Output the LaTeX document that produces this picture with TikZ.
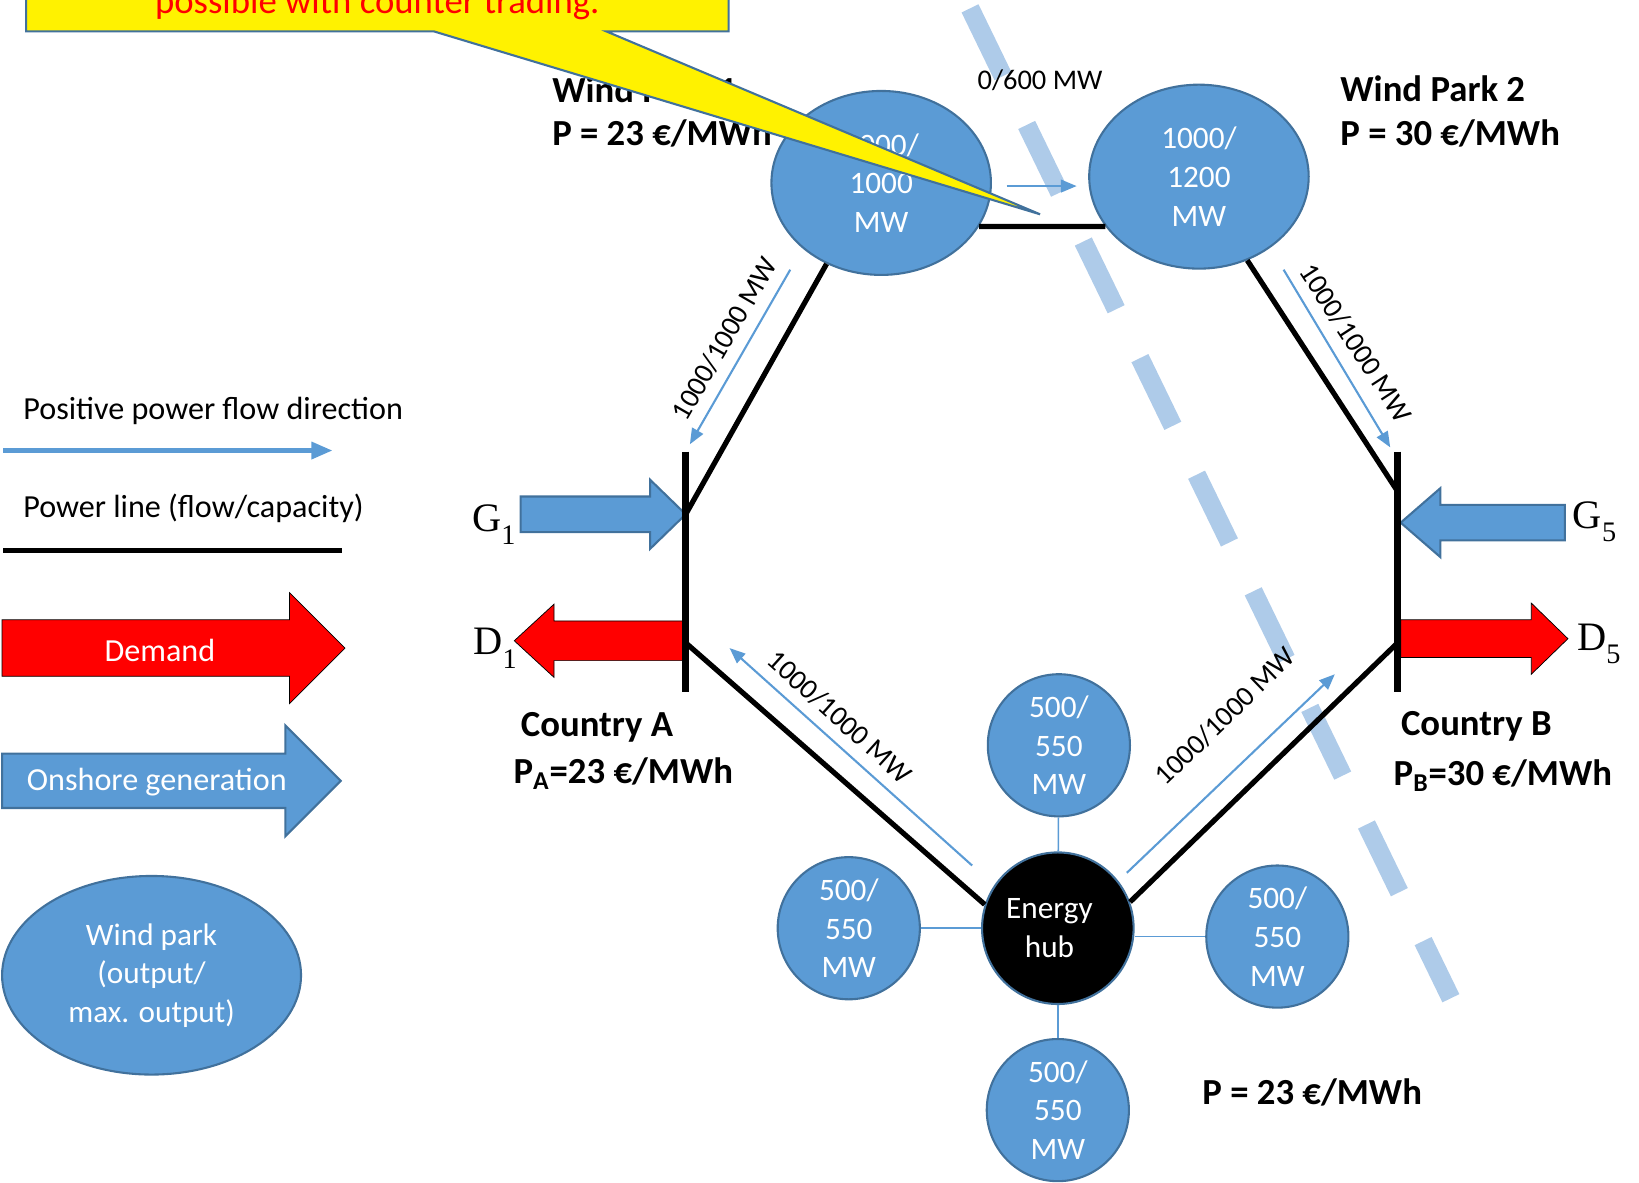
\documentclass[tikz,border=0pt]{standalone}
\usepackage{fontspec}
\setmainfont{Carlito}
\newfontfamily\serifG{Liberation Serif}
\usetikzlibrary{calc,shapes.geometric,arrows.meta}
\definecolor{parkblue}{RGB}{91,155,213}
\definecolor{parkedge}{RGB}{65,113,156}
\definecolor{cutblue}{RGB}{174,203,233}
\def\blockarrow#1#2#3#4#5#6#7{\draw[#1] ({#2},{#5-#6}) -- ({#3},{#5-#6}) -- ({#3},{#5-#7}) -- ({#4},{#5}) -- ({#3},{#5+#7}) -- ({#3},{#5+#6}) -- ({#2},{#5+#6}) -- cycle;}

\begin{document}
\begin{tikzpicture}[x=0.2mm, y=-0.2mm,
		park/.style={ellipse, draw=parkedge, fill=parkblue, line width=0.4mm, text=white, align=center, inner sep=0pt, minimum width=42mm, minimum height=35.2mm, font=\fontsize{17}{21}\selectfont},
		farm/.style={park, circle, minimum size=27.2mm},
		hubst/.style={farm, fill=black, minimum size=29mm},
		pline/.style={line width=1mm},
		bus/.style={line width=1.3mm},
		flow/.style={draw=parkblue, line width=0.4mm, -{Triangle[length=3mm,width=2.4mm]}},
		link/.style={draw=parkblue, line width=0.3mm},
		cut/.style={draw=cutblue, line width=3.6mm, dash pattern=on 14.4mm off 10.4mm},
		gen/.style={fill=parkblue, draw=parkedge, line width=0.4mm},
		dem/.style={fill=red},
		caplbl/.style={font=\fontsize{15.5}{18}\selectfont},
		lbl/.style={anchor=west, inner sep=0pt, font=\bfseries\fontsize{20}{24}\selectfont},
		gd/.style={font=\serifG\fontsize{22}{26}\selectfont},
		legtext/.style={anchor=west, inner sep=0pt, font=\fontsize{17.5}{21}\selectfont}]
	\useasboundingbox (0,0) rectangle (1568,1131);
	%%%%% START %%%%%
	\draw[cut] (928,8) -- (1388,955);
	
	% wind parks and hub
	\node[park] (wp1) at (843,175) {1000/\\1000\\MW};
	\node[park] (wp2) at (1147,169) {1000/\\1200\\MW};
	\node[hubst] (hub) at (1012,888) {Energy\hspace*{3.2mm}\\hub\hspace*{3.2mm}};
	\node[farm] (farmN) at (1013,713) {500/\\550\\MW};
	\node[farm] (farmW) at (812,888) {500/\\550\\MW};
	\node[farm] (farmE) at (1222,896) {500/\\550\\MW};
	\node[farm] (farmS) at (1012,1062) {500/\\550\\MW};
	
	\draw[link] (farmN) -- (hub);
	\draw[link] (farmW) -- (hub);
	\draw[link] (farmE.west) -- (farmE.west -| hub.east);
	\draw[link] (farmS) -- (hub);
	
	% countries
	\coordinate (A0) at (656,432);
	\coordinate (A1) at (656,492);
	\coordinate (A2) at (656,615);
	\coordinate (A3) at (656,662);
	\coordinate (B0) at (1337,432);
	\coordinate (B1) at (1337,470);
	\coordinate (B2) at (1337,615);
	\coordinate (B3) at (1337,662);
	
	\blockarrow{gen}{498}{622}{656}{492}{17}{33}
	\blockarrow{dem}{656}{530}{492}{613}{19}{35}
	\blockarrow{gen}{1497}{1378}{1340}{500}{17}{33}
	\blockarrow{dem}{1340}{1465}{1500}{611}{18}{34}
	
	\draw[bus] (A0) -- (A3);
	\draw[bus] (B0) -- (B3);
	
	% power lines
	\draw[pline] (wp1.-124) -- (A1);
	\draw[pline] (wp1.-24.5) -- (wp2.208.6);
	\draw[pline] (wp2.-60) -- (B1);
	\draw[pline] (A2) -- (hub.162);
	\draw[pline] (hub.20) -- (B2);
	
	% flow directions
	\coordinate (f1a) at (756,258);
	\coordinate (f1b) at (660,425);
	\coordinate (f2a) at (963,178);
	\coordinate (f2b) at (1030,178);
	\coordinate (f3a) at (1228,258);
	\coordinate (f3b) at (1330,428);
	\coordinate (f4a) at (930,828);
	\coordinate (f4b) at (698,620);
	\coordinate (f5a) at (1078,835);
	\coordinate (f5b) at (1277,645);
	\draw[flow] (f1a) -- (f1b);
	\draw[flow] (f2a) -- (f2b);
	\draw[flow] (f3a) -- (f3b);
	\draw[flow] (f4a) -- (f4b);
	\draw[flow] (f5a) -- (f5b);
	
	\node[caplbl, rotate=60] (capA) at (693,324) {1000/1000 MW};
	\node[caplbl] (capP) at (995,77) {0/600 MW};
	\node[caplbl, rotate=-57] (capB) at (1297,328) {1000/1000 MW};
	\node[caplbl, rotate=-42] (capHA) at (803,686) {1000/1000 MW};
	\node[caplbl, rotate=44] (capHB) at (1172,685) {1000/1000 MW};
	
	\node[gd] (g1) at (473,502) {G\textsubscript{\raisebox{-0.6ex}{1}}};
	\node[gd] (d1) at (474,620) {D\textsubscript{\raisebox{-0.6ex}{1}}};
	\node[gd] (g5) at (1526,499) {G\textsubscript{\raisebox{-0.6ex}{5}}};
	\node[gd] (d5) at (1530,616) {D\textsubscript{\raisebox{-0.6ex}{5}}};
	
	\node[lbl] (wp1name) at (528,86) {Wind Park 1};
	\node[lbl] (wp1price) at (528,128) {P = 23 €/MWh};
	\node[lbl] (wp2name) at (1282,85) {Wind Park 2};
	\node[lbl] (wp2price) at (1282,128) {P = 30 €/MWh};
	\node[lbl] (cA) at (498,696) {Country A};
	\node[lbl] (pA) at (491,740) {P\textsubscript{A}=23 €/MWh};
	\node[lbl] (cB) at (1340,695) {Country B};
	\node[lbl] (pB) at (1333,742) {P\textsubscript{B}=30 €/MWh};
	\node[lbl] (hubprice) at (1150,1045) {P = 23 €/MWh};
	
	% legend
	\node[legtext] (legflow) at (22,393) {Positive power flow direction};
	\draw[draw=parkblue, line width=0.8mm, -{Triangle[length=4mm,width=3.2mm]}] (3,431) -- (318,431);
	\node[legtext] (legline) at (22,486) {Power line (flow/capacity)};
	\draw[pline] (3,527) -- (327,527);
	\blockarrow{dem}{2}{277}{330}{620}{27}{53}
	\node[legtext, anchor=center, text=white] (legdem) at (153,622) {Demand};
	\blockarrow{gen}{2}{273}{326}{747}{26}{53}
	\node[legtext, anchor=center, text=white] (leggen) at (150,748) {Onshore generation};
	\node[park, minimum width=57.2mm, minimum height=38mm] (legpark) at (145,933) {Wind park\\(output/\\max. output)};
	
	% callout
	\draw[fill=yellow, draw=parkedge, line width=0.4mm] (25,-80) -- (25,30) -- (415,30) -- (995,205) -- (580,30) -- (697,30) -- (697,-80) -- cycle;
	\node[anchor=base, text=red, font=\fontsize{20}{24}\selectfont] (note) at (361,13) {possible with counter trading.};
	%%%%% END %%%%%
\end{tikzpicture}
\end{document}
